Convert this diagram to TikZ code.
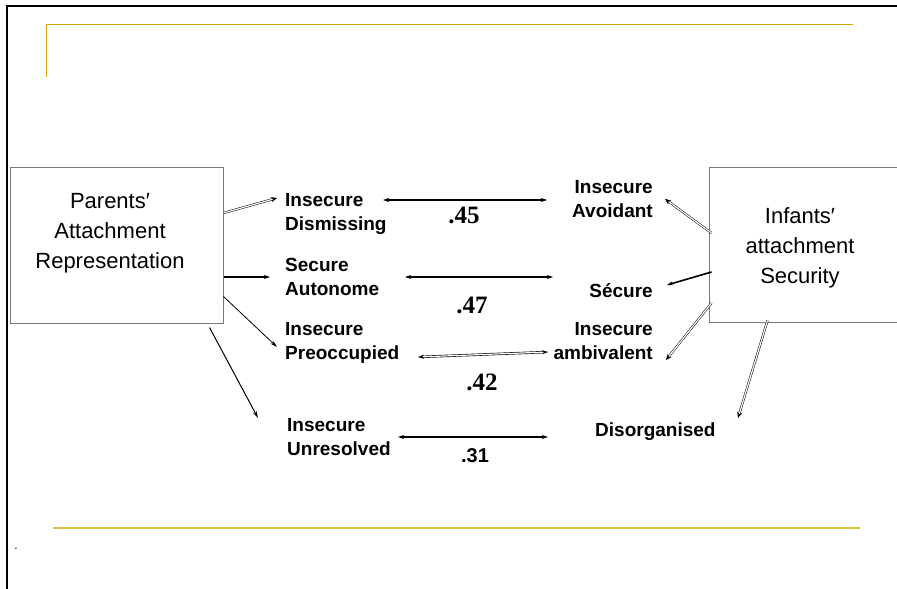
\documentclass[tikz,border=0pt]{standalone}
\usepackage{fontspec}
\setmainfont{Liberation Sans}
\newfontfamily\numfont{Liberation Serif}
\usetikzlibrary{arrows.meta}
\definecolor{gold}{RGB}{214,170,0}
\definecolor{boxgray}{RGB}{120,120,120}

\begin{document}
\begin{tikzpicture}[x=1pt, y=-1pt,
    lab/.style={font=\fontsize{19}{24}\selectfont\bfseries, inner sep=0pt},
    boxtext/.style={font=\fontsize{22}{30}\selectfont, inner sep=0pt, align=center},
    num/.style={font=\fontsize{25}{26}\selectfont\numfont\bfseries, inner sep=0pt},
    frame/.style={draw=boxgray, line width=1pt, inner sep=0pt},
    corr/.style={line width=1.4pt, {Stealth[length=6pt,width=4pt]}-{Stealth[length=6pt,width=4pt]}},
    dbl/.style={double=white, double distance=1.2pt, line width=0.5pt, -{Stealth[length=6pt,width=5pt]}},
    thin/.style={line width=0.8pt, -{Stealth[length=7pt,width=4pt]}},
    heavy/.style={line width=1.6pt, -{Stealth[length=6pt,width=4pt]}}]
    \useasboundingbox (0,0) rectangle (897,589);

    % Slide frame
    \draw[line width=2pt] (7,589) -- (7,6) -- (897,6);
    \draw[gold, line width=1pt] (46,77) -- (46,24) -- (853,24);
    \draw[gold!75, line width=1.8pt] (53,528) -- (860,528);
    \node[font=\fontsize{12}{12}\selectfont] (dot) at (16,549) {.};

    % Boxes
    \node[frame, minimum width=213pt, minimum height=156pt] (par) at (116.5,245) {};
    \node[boxtext, anchor=north] (parT) at (110,193) {Parents′\\Attachment\\Representation};
    \node[frame, minimum width=196pt, minimum height=155pt] (inf) at (807,244.5) {};
    \node[boxtext, anchor=north] (infT) at (800,207) {Infants′\\attachment\\Security};

    % Parents' categories
    \node[lab, align=left, anchor=north west] (dism) at (285,193) {Insecure\\Dismissing};
    \node[lab, align=left, anchor=north west] (sec) at (285,258) {Secure\\Autonome};
    \node[lab, align=left, anchor=north west] (preo) at (285,322) {Insecure\\Preoccupied};
    \node[lab, align=left, anchor=north west] (unres) at (287,418) {Insecure\\Unresolved};

    % Infants' categories
    \node[lab, align=right, anchor=north east] (avoid) at (653,180) {Insecure\\Avoidant};
    \node[lab, anchor=north east] (secu) at (653,283) {Sécure};
    \node[lab, align=right, anchor=north east] (ambi) at (653,322) {Insecure\\ambivalent};
    \node[lab, anchor=north west] (dis) at (595,423) {Disorganised};

    % Correlations
    \node[num] (r1) at (464,215) {.45};
    \node[num] (r2) at (472,305) {.47};
    \node[num] (r3) at (482,382) {.42};
    \node[lab, font=\fontsize{20}{24}\selectfont\bfseries] (r4) at (475,456) {.31};

    \draw[corr] ([shift={(98,7)}]dism.north west) -- ([shift={(-106,20)}]avoid.north east);
    \draw[corr] ([shift={(120,19)}]sec.north west) -- ([shift={(-100,-6)}]secu.north east);
    \draw[dbl, line width=0.6pt, {Stealth[length=6pt,width=4pt]}-{Stealth[length=6pt,width=4pt]}]
        ([shift={(133,35)}]preo.north west) -- ([shift={(-105,30)}]ambi.north east);
    \draw[corr] ([shift={(111,19)}]unres.north west) -- ([shift={(-47,14)}]dis.north west);

    % Arrows from the boxes
    \draw[dbl] ([shift={(0,-32)}]par.east) -- ([shift={(-8,5)}]dism.north west);
    \draw[heavy] ([shift={(0,32)}]par.east) -- ([shift={(-15,19)}]sec.north west);
    \draw[thin] ([shift={(0,-27)}]par.south east) -- ([shift={(-8,25)}]preo.north west);
    \draw[thin, line width=1pt] ([shift={(-14,4)}]par.south east) -- ([shift={(-29,0)}]unres.north west);

    \draw[dbl] ([shift={(3,-11.5)}]inf.west) -- ([shift={(12,19)}]avoid.north east);
    \draw[heavy] ([shift={(3,27.5)}]inf.west) -- ([shift={(14,2)}]secu.north east);
    \draw[dbl] ([shift={(3,58.5)}]inf.west) -- ([shift={(13,38)}]ambi.north east);
    \draw[dbl] ([shift={(59,-2)}]inf.south west) -- ([shift={(143,-5)}]dis.north west);
\end{tikzpicture}
\end{document}
